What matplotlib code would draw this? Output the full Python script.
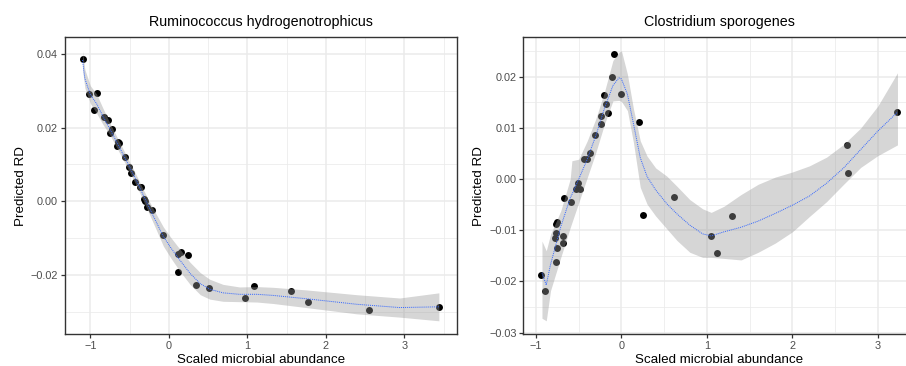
import numpy as np
import matplotlib
matplotlib.use("Agg")
import matplotlib.pyplot as plt

plt.rcParams['font.family'] = ['Liberation Sans', 'DejaVu Sans']

# --- left panel: Ruminococcus hydrogenotrophicus ---
rh_x = [-1.10, -1.015, -0.92, -0.96, -0.83, -0.78, -0.73, -0.75, -0.65, -0.66, -0.64,
        -0.56, -0.505, -0.48, -0.43, -0.37, -0.36, -0.32, -0.31, -0.28, -0.21,
        -0.08, 0.12, 0.15, 0.24, 0.12, 0.34, 0.505, 0.97, 1.08, 1.55, 1.775, 2.55, 3.44]
rh_y = [0.0386, 0.0292, 0.0294, 0.0248, 0.0229, 0.0220, 0.0197, 0.0185, 0.0161, 0.0149, 0.0157,
        0.0120, 0.0093, 0.0076, 0.0052, 0.0039, 0.0040, 0.0005, 0.0000, -0.0015, -0.0024,
        -0.0093, -0.0143, -0.0139, -0.0145, -0.0193, -0.0227, -0.0237, -0.0263, -0.0231,
        -0.0245, -0.0273, -0.0296, -0.0287]

rh_fit_x = [-1.10, -1.07, -1.00, -0.92, -0.84, -0.75, -0.65, -0.54, -0.41, -0.28, -0.18,
            -0.07, 0.03, 0.14, 0.27, 0.40, 0.52, 0.69, 0.90, 1.12, 1.33, 1.75, 2.39, 2.94, 3.44]
rh_fit = [0.0384, 0.0333, 0.0290, 0.0265, 0.0231, 0.0196, 0.0155, 0.0110, 0.0055, -0.0004, -0.0048,
          -0.0096, -0.0128, -0.0160, -0.0196, -0.0224, -0.0239, -0.0249, -0.0253, -0.0253, -0.0256,
          -0.0265, -0.0280, -0.0289, -0.0287]
rh_half = [0.0025, 0.0025, 0.0024, 0.0026, 0.0022, 0.0016, 0.0015, 0.0014, 0.0014, 0.0016, 0.0020,
           0.0026, 0.0028, 0.0030, 0.0030, 0.0030, 0.0027, 0.0023, 0.0020, 0.0021, 0.0022,
           0.0024, 0.0026, 0.0026, 0.0038]

# --- right panel: Clostridium sporogenes ---
cs_x = [-0.09, -0.11, -0.01, -0.20, -0.18, -0.16, -0.245, -0.235, -0.315, -0.37, -0.44, -0.40,
        -0.51, -0.53, -0.48, -0.585, -0.67, -0.755, -0.765, -0.77, -0.78, -0.755, -0.68, -0.685,
        -0.765, -0.94, -0.90, 0.21, 0.62, 0.25, 1.05, 1.29, 1.12, 2.64, 2.655, 3.23]
cs_y = [0.0244, 0.0199, 0.0166, 0.0165, 0.0147, 0.0130, 0.0123, 0.0107, 0.0086, 0.0052, 0.0040, 0.0040,
        -0.0007, -0.0019, -0.0019, -0.0044, -0.0037, -0.0083, -0.0088, -0.0106, -0.0115, -0.0134, -0.0112,
        -0.0125, -0.0162, -0.0188, -0.0219, 0.0111, -0.0035, -0.0070, -0.0111, -0.0072, -0.0145,
        0.0066, 0.0012, 0.0131]

cs_fit_x = [-0.93, -0.88, -0.83, -0.71, -0.60, -0.58, -0.50, -0.40, -0.30, -0.20, -0.10, -0.03, 0.00,
            0.07, 0.14, 0.22, 0.30, 0.40, 0.53, 0.65, 0.80, 0.95, 1.05, 1.20, 1.40, 1.60, 1.80,
            2.00, 2.20, 2.40, 2.60, 2.80, 3.00, 3.23]
cs_fit = [-0.0183, -0.0207, -0.0167, -0.0093, -0.0037, -0.0030, 0.0000, 0.0039, 0.0085, 0.0138, 0.0183,
          0.0198, 0.0196, 0.0166, 0.0109, 0.0042, 0.0005, -0.0021, -0.0048, -0.0068, -0.0090, -0.0107,
          -0.0111, -0.0103, -0.0094, -0.0082, -0.0067, -0.0051, -0.0033, -0.0008, 0.0022, 0.0058,
          0.0094, 0.0131]
cs_upper = [-0.0121, -0.0140, -0.0108, -0.0062, 0.0000, 0.0036, 0.0039, 0.0075, 0.0118, 0.0170, 0.0232,
            0.0248, 0.0251, 0.0205, 0.0138, 0.0075, 0.0045, 0.0022, 0.0006, -0.0014, -0.0040, -0.0058,
            -0.0065, -0.0053, -0.0030, -0.0010, 0.0004, 0.0014, 0.0026, 0.0043, 0.0068, 0.0100,
            0.0143, 0.0208]
cs_lower = [-0.0272, -0.0277, -0.0218, -0.0153, -0.0095, -0.0085, -0.0046, 0.0003, 0.0052, 0.0107, 0.0153,
            0.0154, 0.0152, 0.0134, 0.0072, -0.0016, -0.0049, -0.0072, -0.0097, -0.0120, -0.0143, -0.0153,
            -0.0153, -0.0155, -0.0158, -0.0143, -0.0125, -0.0103, -0.0073, -0.0044, -0.0010, 0.0023,
            0.0046, 0.0067]

rh_lower = np.array(rh_fit) - np.array(rh_half)
rh_upper = np.array(rh_fit) + np.array(rh_half)

W, H = 906, 366
fig = plt.figure(figsize=(W / 100, H / 100), dpi=100)
ax1 = fig.add_axes([64.7 / W, (H - 334.3) / H, 392 / W, 297 / H])
ax2 = fig.add_axes([523.3 / W, (H - 334.3) / H, 392 / W, 297 / H])

def style(ax, xmaj, ymaj, ymin, fmt):
    ax.set_xticks(xmaj)
    ax.set_xticks(np.arange(-1.5, 4.0, 1.0), minor=True)
    ax.set_yticks(ymaj)
    ax.set_yticks(ymin, minor=True)
    ax.set_xticklabels([str(v).replace('-', '\u2212') for v in xmaj])
    ax.set_yticklabels([fmt.format(v).replace('-', '\u2212') for v in ymaj])
    ax.grid(which='major', color='#EBEBEB', linewidth=1.1, zorder=0)
    ax.grid(which='minor', color='#EBEBEB', linewidth=0.55, zorder=0)
    ax.set_axisbelow(True)
    for s in ax.spines.values():
        s.set_color('#333333')
        s.set_linewidth(1.0)
    ax.tick_params(which='major', length=2.75, width=0.9, color='#333333',
                   labelsize=7.8, labelcolor='#4D4D4D', pad=2)
    ax.tick_params(which='minor', length=0)
    ax.set_xlabel('Scaled microbial abundance', fontsize=9.6, labelpad=2)
    ax.set_ylabel('Predicted RD', fontsize=9.6, labelpad=3)

def panel(ax, px, py, fx, fy, lo, hi, title):
    ax.scatter(px, py, s=25, color='black', linewidths=0, zorder=2)
    ax.fill_between(fx, lo, hi, color='#999999', alpha=0.4, linewidth=0, zorder=3)
    ax.plot(fx, fy, color='#3366FF', linewidth=0.7, linestyle=(0, (1, 1)), zorder=4)
    ax.set_title(title, fontsize=10.3, pad=8)

panel(ax1, rh_x, rh_y, rh_fit_x, rh_fit, rh_lower, rh_upper, 'Ruminococcus hydrogenotrophicus')
panel(ax2, cs_x, cs_y, cs_fit_x, cs_fit, cs_lower, cs_upper, 'Clostridium sporogenes')

style(ax1, [-1, 0, 1, 2, 3], [-0.02, 0.00, 0.02, 0.04], [-0.03, -0.01, 0.01, 0.03], '{:.2f}')
style(ax2, [-1, 0, 1, 2, 3], [-0.03, -0.02, -0.01, 0.00, 0.01, 0.02],
      [-0.025, -0.015, -0.005, 0.005, 0.015, 0.025], '{:.2f}')

ax1.margins(0.05)
ax2.margins(0.05)

fig.savefig('out.png', dpi=100)
